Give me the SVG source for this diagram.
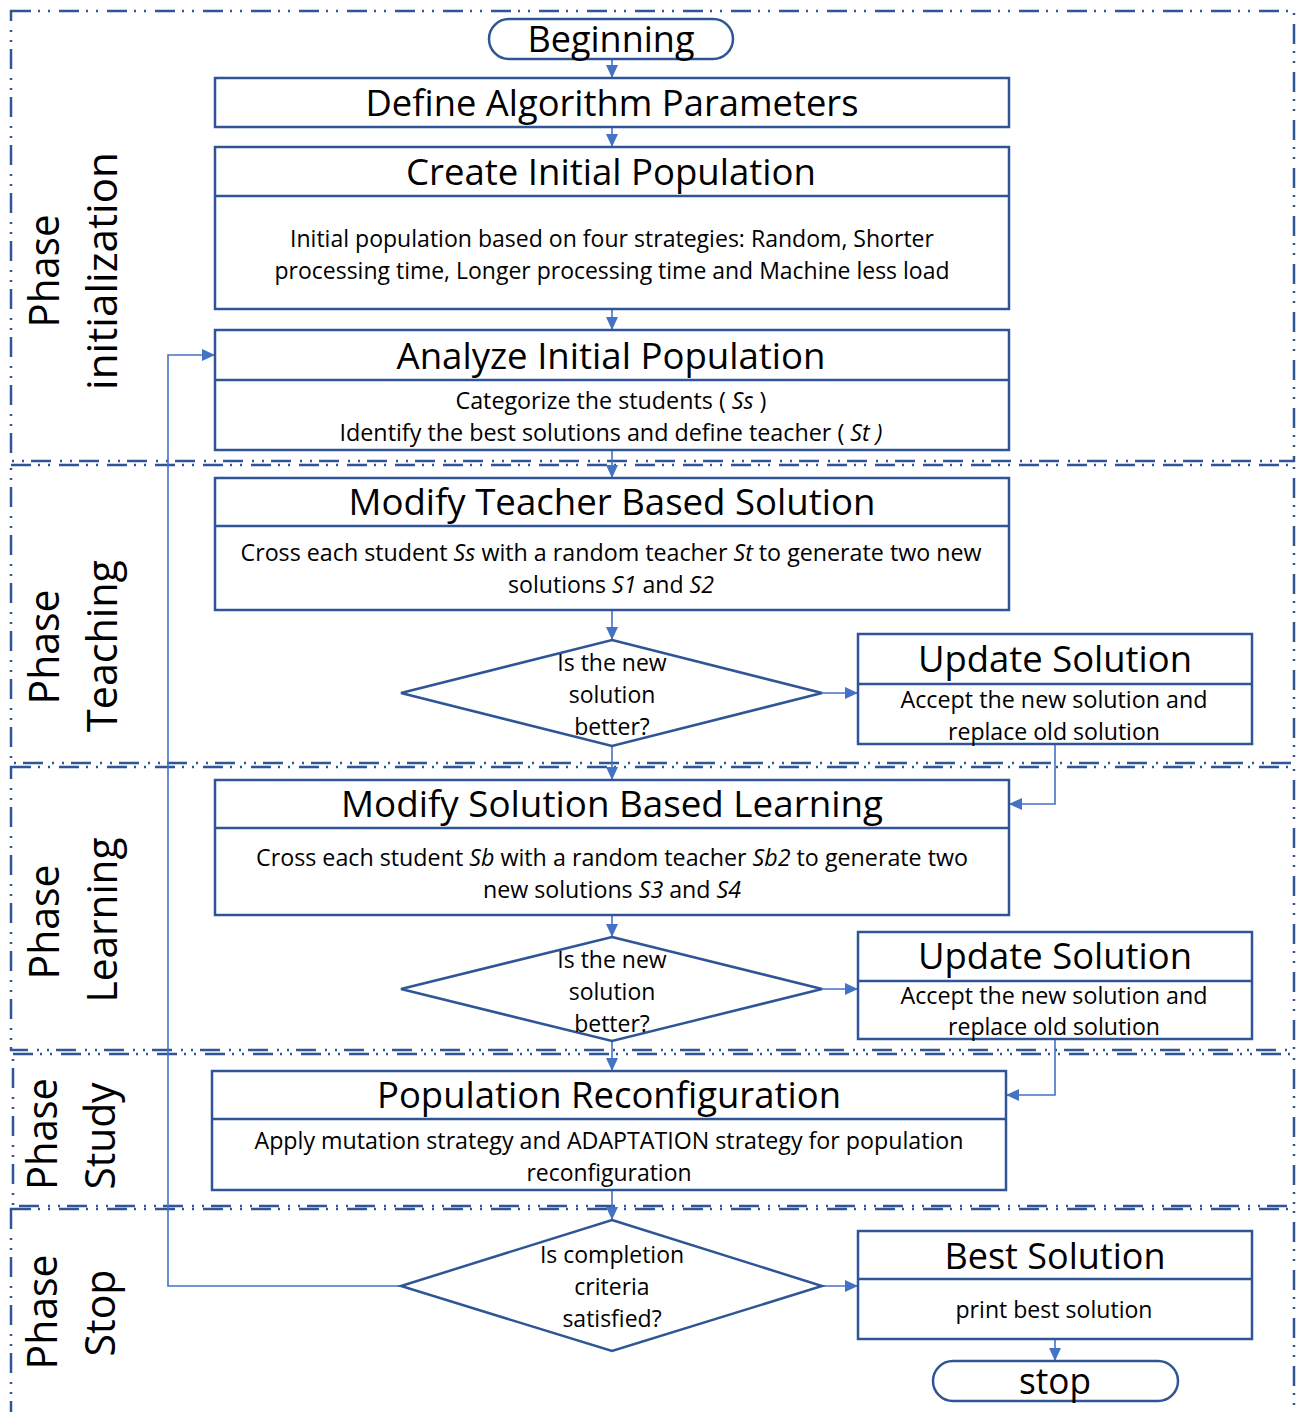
<svg xmlns="http://www.w3.org/2000/svg" width="1296" height="1412" viewBox="0 0 1296 1412">
<defs>
<style>
.phase{fill:none;stroke:#2F5597;stroke-width:2.5;stroke-dasharray:20 7 2 8 2 9}
.box{fill:#fff;stroke:#2F5597;stroke-width:2.5}
.div{stroke:#2F5597;stroke-width:2.5}
.con{fill:none;stroke:#4472C4;stroke-width:1.6}
.t{font-family:"Open Sans","Noto Sans",sans-serif;fill:#000;text-anchor:middle}
.title{font-size:36px}
.body{font-size:23px}
.dia{font-size:23px}
.plab{font-size:42px}
.i{font-style:italic}
</style>
<marker id="ah" markerWidth="13" markerHeight="12" refX="12" refY="6" orient="auto" markerUnits="userSpaceOnUse">
<path d="M0,0 L13,6 L0,12 z" fill="#4472C4"/>
</marker>
</defs>
<rect width="1296" height="1412" fill="#fff"/>

<g id="phases">
<rect class="phase" x="11" y="11" width="1283" height="450"/>
<rect class="phase" x="11" y="465" width="1283" height="298"/>
<rect class="phase" x="11" y="767" width="1283" height="283"/>
<rect class="phase" x="13" y="1054" width="1281" height="152"/>
<rect class="phase" x="11" y="1209" width="1283" height="215"/>
</g>

<g id="phase-labels">
<text class="t plab" transform="translate(59,271) rotate(-90)" textLength="113" lengthAdjust="spacingAndGlyphs">Phase</text>
<text class="t plab" transform="translate(117,271) rotate(-90)" textLength="238" lengthAdjust="spacingAndGlyphs">initialization</text>
<text class="t plab" transform="translate(59,647) rotate(-90)" textLength="115" lengthAdjust="spacingAndGlyphs">Phase</text>
<text class="t plab" transform="translate(117,646) rotate(-90)" textLength="172" lengthAdjust="spacingAndGlyphs">Teaching</text>
<text class="t plab" transform="translate(59,922) rotate(-90)" textLength="115" lengthAdjust="spacingAndGlyphs">Phase</text>
<text class="t plab" transform="translate(117,920) rotate(-90)" textLength="165" lengthAdjust="spacingAndGlyphs">Learning</text>
<text class="t plab" transform="translate(57,1134) rotate(-90)" textLength="112" lengthAdjust="spacingAndGlyphs">Phase</text>
<text class="t plab" transform="translate(115,1136) rotate(-90)" textLength="107" lengthAdjust="spacingAndGlyphs">Study</text>
<text class="t plab" transform="translate(57,1312) rotate(-90)" textLength="115" lengthAdjust="spacingAndGlyphs">Phase</text>
<text class="t plab" transform="translate(115,1313) rotate(-90)" textLength="87" lengthAdjust="spacingAndGlyphs">Stop</text>
</g>

<g id="connectors">
<path class="con" d="M612,59 V77" marker-end="url(#ah)"/>
<path class="con" d="M612,127 V146" marker-end="url(#ah)"/>
<path class="con" d="M612,309 V329" marker-end="url(#ah)"/>
<path class="con" d="M612,450 V477" marker-end="url(#ah)"/>
<path class="con" d="M612,610 V639" marker-end="url(#ah)"/>
<path class="con" d="M822,693 H857" marker-end="url(#ah)"/>
<path class="con" d="M612,746 V779" marker-end="url(#ah)"/>
<path class="con" d="M1055,744 V804 H1010" marker-end="url(#ah)"/>
<path class="con" d="M612,915 V936" marker-end="url(#ah)"/>
<path class="con" d="M822,989 H857" marker-end="url(#ah)"/>
<path class="con" d="M612,1041 V1070" marker-end="url(#ah)"/>
<path class="con" d="M1055,1039 V1095 H1007" marker-end="url(#ah)"/>
<path class="con" d="M612,1190 V1219" marker-end="url(#ah)"/>
<path class="con" d="M822,1286 H857" marker-end="url(#ah)"/>
<path class="con" d="M401,1286 H168 V355 H214" marker-end="url(#ah)"/>
<path class="con" d="M1055,1339 V1360" marker-end="url(#ah)"/>
</g>

<g id="beginning">
<rect class="box" x="489" y="19" width="244" height="40" rx="20"/>
<text class="t title" x="611" y="52" textLength="167" lengthAdjust="spacingAndGlyphs">Beginning</text>
</g>

<g id="define">
<rect class="box" x="215" y="78" width="794" height="49"/>
<text class="t title" x="612" y="116" textLength="493" lengthAdjust="spacingAndGlyphs">Define Algorithm Parameters</text>
</g>

<g id="create">
<rect class="box" x="215" y="147" width="794" height="162"/>
<line class="div" x1="215" y1="196" x2="1009" y2="196"/>
<text class="t title" x="611" y="185" textLength="410" lengthAdjust="spacingAndGlyphs">Create Initial Population</text>
<text class="t body" x="612" y="247" textLength="644" lengthAdjust="spacingAndGlyphs">Initial population based on four strategies: Random, Shorter</text>
<text class="t body" x="612" y="279" textLength="675" lengthAdjust="spacingAndGlyphs">processing time, Longer processing time and Machine less load</text>
</g>

<g id="analyze">
<rect class="box" x="215" y="330" width="794" height="120"/>
<line class="div" x1="215" y1="380" x2="1009" y2="380"/>
<text class="t title" x="611" y="369" textLength="429" lengthAdjust="spacingAndGlyphs">Analyze Initial Population</text>
<text class="t body" x="611" y="409" textLength="311" lengthAdjust="spacingAndGlyphs">Categorize the students ( <tspan class="i">Ss</tspan> )</text>
<text class="t body" x="611" y="441" textLength="543" lengthAdjust="spacingAndGlyphs">Identify the best solutions and define teacher ( <tspan class="i">St )</tspan></text>
</g>

<g id="modify-teacher">
<rect class="box" x="215" y="478" width="794" height="132"/>
<line class="div" x1="215" y1="526" x2="1009" y2="526"/>
<text class="t title" x="612" y="515" textLength="527" lengthAdjust="spacingAndGlyphs">Modify Teacher Based Solution</text>
<text class="t body" x="611" y="561" textLength="741" lengthAdjust="spacingAndGlyphs">Cross each student <tspan class="i">Ss</tspan> with a random teacher <tspan class="i">St</tspan> to generate two new</text>
<text class="t body" x="611" y="593" textLength="206" lengthAdjust="spacingAndGlyphs">solutions <tspan class="i">S1</tspan> and <tspan class="i">S2</tspan></text>
</g>

<g id="decision1">
<polygon class="box" points="612,640 822,693 612,746 401,693"/>
<text class="t dia" x="612" y="671">Is the new</text>
<text class="t dia" x="612" y="703">solution</text>
<text class="t dia" x="612" y="735">better?</text>
</g>

<g id="update1">
<rect class="box" x="858" y="634" width="394" height="110"/>
<line class="div" x1="858" y1="684" x2="1252" y2="684"/>
<text class="t title" x="1055" y="672" textLength="274" lengthAdjust="spacingAndGlyphs">Update Solution</text>
<text class="t body" x="1054" y="708" textLength="307" lengthAdjust="spacingAndGlyphs">Accept the new solution and</text>
<text class="t body" x="1054" y="740" textLength="212" lengthAdjust="spacingAndGlyphs">replace old solution</text>
</g>

<g id="modify-learning">
<rect class="box" x="215" y="780" width="794" height="135"/>
<line class="div" x1="215" y1="828" x2="1009" y2="828"/>
<text class="t title" x="612" y="817" textLength="542" lengthAdjust="spacingAndGlyphs">Modify Solution Based Learning</text>
<text class="t body" x="612" y="866" textLength="712" lengthAdjust="spacingAndGlyphs">Cross each student <tspan class="i">Sb</tspan> with a random teacher <tspan class="i">Sb2</tspan> to generate two</text>
<text class="t body" x="612" y="898" textLength="258" lengthAdjust="spacingAndGlyphs">new solutions <tspan class="i">S3</tspan> and <tspan class="i">S4</tspan></text>
</g>

<g id="decision2">
<polygon class="box" points="612,937 822,989 612,1041 401,989"/>
<text class="t dia" x="612" y="968">Is the new</text>
<text class="t dia" x="612" y="1000">solution</text>
<text class="t dia" x="612" y="1032">better?</text>
</g>

<g id="update2">
<rect class="box" x="858" y="932" width="394" height="107"/>
<line class="div" x1="858" y1="981" x2="1252" y2="981"/>
<text class="t title" x="1055" y="969" textLength="274" lengthAdjust="spacingAndGlyphs">Update Solution</text>
<text class="t body" x="1054" y="1004" textLength="307" lengthAdjust="spacingAndGlyphs">Accept the new solution and</text>
<text class="t body" x="1054" y="1035" textLength="212" lengthAdjust="spacingAndGlyphs">replace old solution</text>
</g>

<g id="reconfig">
<rect class="box" x="212" y="1071" width="794" height="119"/>
<line class="div" x1="212" y1="1119" x2="1006" y2="1119"/>
<text class="t title" x="609" y="1108" textLength="464" lengthAdjust="spacingAndGlyphs">Population Reconfiguration</text>
<text class="t body" x="609" y="1149" textLength="709" lengthAdjust="spacingAndGlyphs">Apply mutation strategy and ADAPTATION strategy for population</text>
<text class="t body" x="609" y="1181" textLength="165" lengthAdjust="spacingAndGlyphs">reconfiguration</text>
</g>

<g id="decision3">
<polygon class="box" points="612,1220 822,1286 612,1351 401,1286"/>
<text class="t dia" x="612" y="1263">Is completion</text>
<text class="t dia" x="612" y="1295">criteria</text>
<text class="t dia" x="612" y="1327">satisfied?</text>
</g>

<g id="best">
<rect class="box" x="858" y="1231" width="394" height="108"/>
<line class="div" x1="858" y1="1279" x2="1252" y2="1279"/>
<text class="t title" x="1055" y="1269" textLength="221" lengthAdjust="spacingAndGlyphs">Best Solution</text>
<text class="t body" x="1054" y="1318" textLength="197" lengthAdjust="spacingAndGlyphs">print best solution</text>
</g>

<g id="stop">
<rect class="box" x="933" y="1361" width="245" height="40" rx="20"/>
<text class="t title" x="1055" y="1394" textLength="72" lengthAdjust="spacingAndGlyphs">stop</text>
</g>
</svg>
